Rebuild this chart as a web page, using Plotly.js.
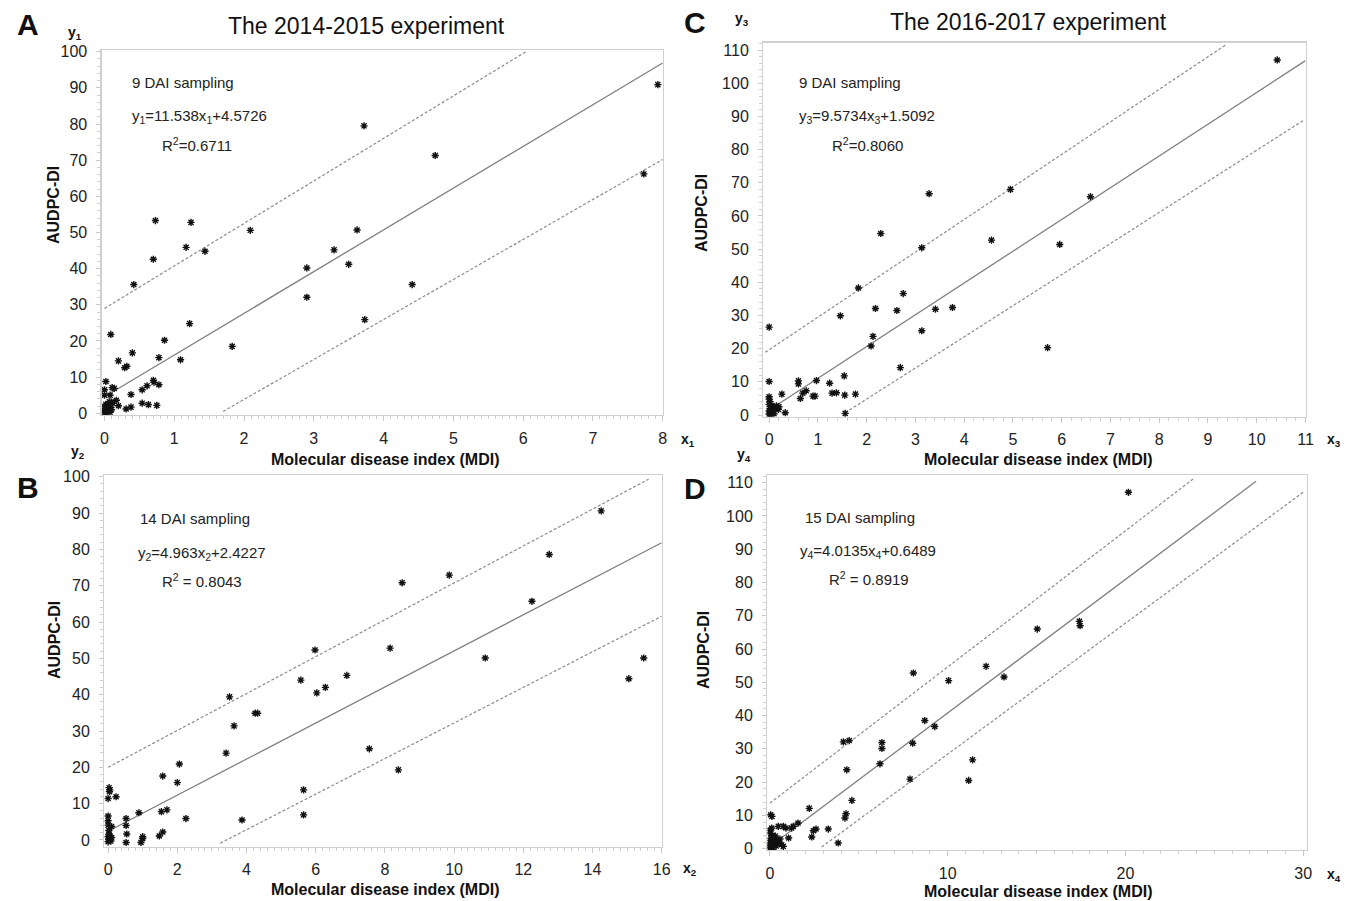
<!DOCTYPE html>
<html><head><meta charset="utf-8">
<script src="https://cdn.plot.ly/plotly-3.0.1.min.js"></script>
<style>html,body{margin:0;padding:0;background:#fff;}#chart{width:1351px;height:901px;}</style>
</head><body><div id="chart"></div>
<script>
// ---------- DATA ----------
// Panel A (2014-2015, 9 DAI)
const A_x = [3.72,0.73,1.24,1.17,1.44,0.70,2.09,0.42,2.90,3.29,3.62,3.50,2.90,3.73,1.22,1.83,0.09,0.86,0.40,0.78,1.09,0.20,0.29,0.32,4.74,4.41,7.93,7.73,
  0.02,0.00,0.11,0.14,0.08,0.00,0.17,0.20,0.10,0.38,0.54,0.61,0.70,0.71,0.78,0.38,0.31,0.54,0.63,0.75,
  0.00,0.01,0.02,0.03,0.04,0.05,0.06,0.02,0.08,0.10,0.12,0.07,0.00,0.03,0.05,0.09];
const A_y = [79.5,53.3,52.8,45.9,44.8,42.6,50.6,35.6,40.2,45.2,50.7,41.2,32.1,25.9,24.8,18.5,21.8,20.2,16.7,15.4,14.8,14.5,12.6,13.0,71.3,35.6,90.9,66.2,
  8.8,6.5,7.1,6.9,5.0,5.0,3.6,2.1,3.1,5.2,6.5,7.6,9.1,8.6,7.9,1.7,1.2,2.8,2.4,2.2,
  0.2,0.5,1.0,1.5,0.8,2.0,1.2,2.5,0.3,1.0,2.8,3.2,1.8,0.1,0.6,1.6];
// Panel B (2014-2015, 14 DAI)
const B_x = [3.51,3.64,3.41,4.25,4.32,5.57,5.98,6.03,6.28,6.90,7.55,5.65,5.65,3.87,8.15,8.50,9.86,8.39,10.9,12.25,12.75,14.25,15.05,15.48,
  2.06,1.58,2.00,0.00,0.03,0.05,0.04,0.23,0.89,1.54,1.70,2.25,0.52,0.52,0.54,0.52,0.95,1.00,1.00,1.48,1.58,
  0.00,0.00,0.00,0.10,0.02,0.03,0.00,0.05,0.02,0.08,0.00,0.04,0.06,0.10];
const B_y = [39.4,31.4,23.9,34.9,34.9,44.0,52.3,40.5,42.0,45.3,25.1,13.8,6.9,5.5,52.8,70.8,72.9,19.3,50.1,65.7,78.6,90.6,44.4,50.1,
  20.9,17.6,15.8,11.4,14.4,13.8,13.3,11.9,7.5,7.8,8.3,5.9,5.9,4.0,1.65,-0.7,-0.7,0.9,0.4,1.1,2.2,
  6.6,5.3,4.1,3.7,2.6,1.65,0.9,0.5,0.1,-0.3,-0.5,1.2,0.2,0.7];
// Panel C (2016-2017, 9 DAI)
const C_x = [0.0,0.0,1.46,1.83,2.29,2.18,2.13,2.09,2.62,2.75,2.69,3.13,3.28,3.13,3.41,3.76,4.56,4.95,5.71,5.96,6.59,10.42,
  0.26,0.19,0.33,0.60,0.60,0.64,0.69,0.76,0.90,0.94,0.97,1.24,1.29,1.38,1.54,1.55,1.56,1.77,
  0.0,0.0,0.02,0.0,0.05,0.10,0.02,0.08,0.0,0.05,0.12,0.15,0.0,0.03,0.10,0.20];
const C_y = [26.5,10.1,29.9,38.3,54.7,32.1,23.7,20.8,31.5,36.6,14.3,50.4,66.7,25.4,31.9,32.4,52.7,68.0,20.3,51.4,65.8,107.0,
  6.3,1.7,0.7,10.3,9.4,5.0,6.6,7.3,5.7,5.7,10.4,9.6,6.6,6.7,11.8,6.0,0.5,6.3,
  5.5,4.8,4.0,3.2,2.8,2.5,2.0,1.5,1.2,0.8,1.8,2.8,0.3,0.1,0.4,2.5];
// Panel D (2016-2017, 15 DAI)
const D_x = [15.04,12.16,13.17,10.05,8.07,8.71,9.27,8.03,6.30,6.30,6.19,7.88,11.18,11.40,4.13,4.46,4.32,4.61,4.28,4.22,2.21,2.35,2.44,2.59,3.28,3.84,1.58,1.22,1.31,0.75,0.90,0.47,0.04,0.11,0.10,1.05,0.56,0.75,0.66,20.17,17.41,17.45,
  0.0,0.05,0.10,0.15,0.20,0.30,0.0,0.08,0.25,0.40,0.0,0.12,0.35,0.50,0.0,0.20,0.05,0.30];
const D_y = [66.0,54.8,51.6,50.5,52.8,38.5,36.7,31.7,31.9,30.1,25.5,20.9,20.5,26.7,32.1,32.5,23.7,14.5,10.5,9.2,12.1,3.5,5.4,5.9,5.9,1.7,7.7,6.2,6.7,6.7,6.2,6.7,10.2,9.7,6.2,3.2,2.9,0.7,1.2,107.1,68.3,67.0,
  5.5,4.5,3.5,2.8,2.0,1.5,1.0,0.5,3.0,2.2,0.2,4.0,0.8,1.8,2.5,0.3,1.3,3.8];

// Regression lines and prediction bands (end points)
const A_reg_x = [0, 8],      A_reg_y = [4.57, 96.88];
const A_up_x  = [0, 6.04],   A_up_y  = [29.0, 100];
const A_lo_x  = [1.70, 8],   A_lo_y  = [0.5, 70.2];
const B_reg_x = [0.04, 16],  B_reg_y = [2.62, 81.83];
const B_up_x  = [0, 15.62],  B_up_y  = [20.0, 99.3];
const B_lo_x  = [3.24, 16],  B_lo_y  = [-0.9, 61.6];
const C_reg_x = [0.05, 11],  C_reg_y = [1.99, 106.8];
const C_up_x  = [-0.08, 9.36], C_up_y = [18.9, 111.5];
const C_lo_x  = [1.56, 10.97], C_lo_y = [0.7, 88.9];
const D_reg_x = [0.56, 27.35], D_reg_y = [2.90, 110.42];
const D_up_x  = [0, 23.86],  D_up_y  = [13.7, 111.3];
const D_lo_x  = [2.91, 30],  D_lo_y  = [0.5, 107.1];

// ---------- HELPERS ----------
const W = 1351, H = 901;
const px = v => v / W, py = v => 1 - v / H;
const FONT = 'Liberation Sans, Arial, sans-serif';

function panel(n, xs, ys, reg, up, lo) {
  const xa = n === 1 ? 'x' : 'x' + n, ya = n === 1 ? 'y' : 'y' + n;
  const lineStyle = {color: '#7f7f7f', width: 1.3};
  const dashStyle = {color: '#8c8c8c', width: 1.2, dash: '3px,2px'};
  return [
    {x: up[0], y: up[1], xaxis: xa, yaxis: ya, mode: 'lines', line: dashStyle, hoverinfo: 'skip'},
    {x: lo[0], y: lo[1], xaxis: xa, yaxis: ya, mode: 'lines', line: dashStyle, hoverinfo: 'skip'},
    {x: reg[0], y: reg[1], xaxis: xa, yaxis: ya, mode: 'lines', line: lineStyle, hoverinfo: 'skip'},
    {x: xs, y: ys, xaxis: xa, yaxis: ya, mode: 'markers', type: 'scatter',
     marker: {symbol: 'asterisk-open', size: 6, color: '#111', line: {color: '#111', width: 1.4}}}
  ];
}

const traces = [].concat(
  panel(1, A_x, A_y, [A_reg_x, A_reg_y], [A_up_x, A_up_y], [A_lo_x, A_lo_y]),
  panel(2, B_x, B_y, [B_reg_x, B_reg_y], [B_up_x, B_up_y], [B_lo_x, B_lo_y]),
  panel(3, C_x, C_y, [C_reg_x, C_reg_y], [C_up_x, C_up_y], [C_lo_x, C_lo_y]),
  panel(4, D_x, D_y, [D_reg_x, D_reg_y], [D_up_x, D_up_y], [D_lo_x, D_lo_y])
);

function xax(l, r, range, dtick, mdtick, anchor) {
  return {domain: [px(l), px(r)], range: range, dtick: dtick, tick0: 0, anchor: anchor,
    showline: true, linecolor: '#d0d0d0', linewidth: 1.3, mirror: true, zeroline: false, showgrid: false,
    ticks: 'outside', ticklen: 5, tickcolor: '#c8c8c8', ticklabelstandoff: 3,
    minor: {ticks: 'outside', dtick: mdtick, ticklen: 3, tickcolor: '#d0d0d0', showgrid: false},
    tickfont: {family: FONT, size: 16, color: '#222'}, fixedrange: true};
}
function yax(t, b, range, mdtick, anchor) {
  return {domain: [py(b), py(t)], range: range, dtick: 10, tick0: 0, anchor: anchor,
    showline: true, linecolor: '#d0d0d0', linewidth: 1.3, mirror: true, zeroline: false, showgrid: false,
    ticks: 'outside', ticklen: 4, tickcolor: '#c8c8c8', ticklabelstandoff: 6,
    minor: {ticks: 'outside', dtick: mdtick, ticklen: 3, tickcolor: '#d0d0d0', showgrid: false},
    tickfont: {family: FONT, size: 16, color: '#222'}, fixedrange: true};
}

function ann(x, y, text, opts) {
  return Object.assign({xref: 'paper', yref: 'paper', x: px(x), y: py(y), text: text, showarrow: false,
    xanchor: 'left', yanchor: 'middle', font: {family: FONT, size: 15, color: '#222'}}, opts || {});
}
const bold = size => ({xanchor: 'center', font: {family: FONT, size: size, color: '#111', weight: 'bold'}});
const rot = size => Object.assign(bold(size), {textangle: -90});

const annotations = [
  ann(366, 26, 'The 2014-2015 experiment', {xanchor: 'center', font: {family: FONT, size: 23, color: '#111'}}),
  ann(1028, 22, 'The 2016-2017 experiment', {xanchor: 'center', font: {family: FONT, size: 23, color: '#111'}}),
  ann(28, 25, '<b>A</b>', bold(30)),
  ann(28, 487, '<b>B</b>', bold(30)),
  ann(695, 23, '<b>C</b>', bold(30)),
  ann(695, 488, '<b>D</b>', bold(30)),
  ann(75, 33, '<b>y<sub>1</sub></b>', bold(14)),
  ann(78, 452, '<b>y<sub>2</sub></b>', bold(14)),
  ann(742, 19, '<b>y<sub>3</sub></b>', bold(14)),
  ann(744, 455, '<b>y<sub>4</sub></b>', bold(14)),
  ann(688, 440, '<b>x<sub>1</sub></b>', bold(14)),
  ann(690, 869, '<b>x<sub>2</sub></b>', bold(14)),
  ann(1334, 440, '<b>x<sub>3</sub></b>', bold(14)),
  ann(1334, 875, '<b>x<sub>4</sub></b>', bold(14)),
  ann(54, 205, '<b>AUDPC-DI</b>', rot(16)),
  ann(54, 640, '<b>AUDPC-DI</b>', rot(16)),
  ann(701, 213, '<b>AUDPC-DI</b>', rot(16)),
  ann(703, 650, '<b>AUDPC-DI</b>', rot(16)),
  ann(385, 459, '<b>Molecular disease index (MDI)</b>', bold(16)),
  ann(385, 889, '<b>Molecular disease index (MDI)</b>', bold(16)),
  ann(1038, 459, '<b>Molecular disease index (MDI)</b>', bold(16)),
  ann(1038, 891, '<b>Molecular disease index (MDI)</b>', bold(16)),
  ann(130, 83, '9 DAI sampling'),
  ann(130, 117, 'y<sub>1</sub>=11.538x<sub>1</sub>+4.5726'),
  ann(160, 144, 'R<sup>2</sup>=0.6711'),
  ann(138, 518, '14 DAI sampling'),
  ann(136, 553, 'y<sub>2</sub>=4.963x<sub>2</sub>+2.4227'),
  ann(160, 580, 'R<sup>2</sup> = 0.8043'),
  ann(797, 83, '9 DAI sampling'),
  ann(797, 117, 'y<sub>3</sub>=9.5734x<sub>3</sub>+1.5092'),
  ann(830, 144, 'R<sup>2</sup>=0.8060'),
  ann(803, 517, '15 DAI sampling'),
  ann(798, 551, 'y<sub>4</sub>=4.0135x<sub>4</sub>+0.6489'),
  ann(827, 578, 'R<sup>2</sup> = 0.8919')
];

const layout = {
  width: W, height: H, margin: {l: 0, r: 0, t: 0, b: 0},
  paper_bgcolor: '#fff', plot_bgcolor: '#fff', showlegend: false,
  font: {family: FONT},
  xaxis:  xax(101.7, 662.7, [-0.04, 8], 1, 0.1, 'y'),
  yaxis:  yax(50, 415, [-0.47, 100.47], 2, 'x'),
  xaxis2: xax(104.3, 661.7, [-0.11, 16], 2, 0.2, 'y2'),
  yaxis2: yax(475, 846.7, [-1.85, 100.47], 2, 'x2'),
  xaxis3: xax(763.3, 1305.5, [-0.12, 11], 1, 0.2, 'y3'),
  yaxis3: yax(42.7, 416.7, [-0.5, 112.2], 2, 'x3'),
  xaxis4: xax(767.3, 1306.7, [-0.15, 30.2], 10, 1, 'y4'),
  yaxis4: yax(475, 850, [-0.4, 112.3], 2, 'x4'),
  annotations: annotations
};

Plotly.newPlot('chart', traces, layout, {displayModeBar: false, staticPlot: true});
</script>
</body></html>
